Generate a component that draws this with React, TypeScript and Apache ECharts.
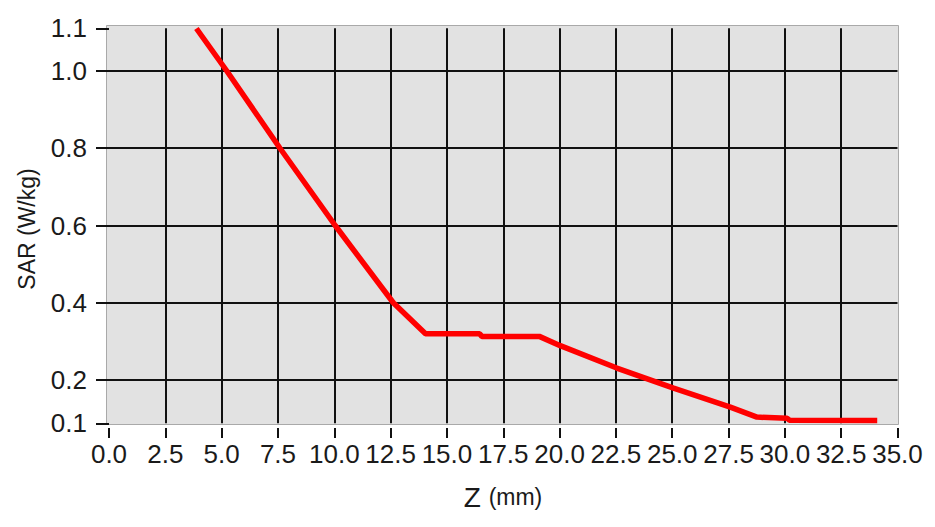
import React, { useEffect, useRef } from "react";
import * as echarts from "echarts";

const zValues = [3.88, 5.23, 7.59, 10.04, 12.62, 14.05, 16.45, 16.55, 19.1, 20.03, 22.54, 25.06, 27.58, 28.76, 30.1, 30.2, 34.1];
const sarValues = [1.11, 1.0, 0.8, 0.6, 0.4, 0.32, 0.32, 0.313, 0.313, 0.289, 0.231, 0.179, 0.13, 0.104, 0.101, 0.096, 0.095];
const yTickValues = [0.088, 0.2, 0.4, 0.6, 0.8, 1.0, 1.1105];
const yGridValues = [0.2, 0.4, 0.6, 0.8, 1.0];
const FONT = "'Liberation Sans', Arial, sans-serif";

export default function App() {
  const ref = useRef<HTMLDivElement>(null);
  useEffect(() => {
    if (!ref.current) return;
    const chart = echarts.init(ref.current, undefined, { renderer: "svg" });
    const data = zValues.map((z, i) => [z, sarValues[i]]);
    chart.setOption({
      animation: false,
      backgroundColor: "#ffffff",
      grid: { left: 109, right: 37.5, top: 28.3, bottom: 103.7, containLabel: false },
      graphic: [
        {
          type: "rect",
          z: -10,
          shape: { x: 106.5, y: 25.5, width: 792, height: 399 },
          style: { fill: "#e2e2e2", stroke: "#a9a9a9", lineWidth: 1 },
        },
        {
          type: "text",
          x: 27,
          y: 229,
          rotation: Math.PI / 2,
          style: {
            text: "SAR (W/kg)",
            fontFamily: FONT,
            fontSize: 23,
            fill: "#1a1a1a",
            align: "center",
            verticalAlign: "middle",
          },
        },
        {
          type: "text",
          x: 503,
          y: 497,
          style: {
            text: "{a|Z}{s| }{b|(mm)}",
            align: "center",
            verticalAlign: "middle",
            rich: {
              a: { fontFamily: FONT, fontSize: 28, fill: "#1a1a1a" },
              s: { fontFamily: FONT, fontSize: 28, fill: "#1a1a1a" },
              b: { fontFamily: FONT, fontSize: 23, fill: "#1a1a1a" },
            },
          },
        },
      ],
      xAxis: {
        type: "value",
        min: 0,
        max: 35,
        interval: 2.5,
        offset: 4.7,
        axisLine: { show: false },
        axisTick: { show: true, length: 10, lineStyle: { color: "#111", width: 2 } },
        axisLabel: {
          margin: 13,
          fontFamily: FONT,
          fontSize: 26,
          color: "#1a1a1a",
          showMinLabel: true,
          showMaxLabel: true,
          hideOverlap: false,
          formatter: (v: number) => v.toFixed(1),
        },
        splitLine: { show: true, showMinLine: false, showMaxLine: false, lineStyle: { color: "#111", width: 2 } },
      },
      yAxis: {
        type: "value",
        min: 0.088,
        max: 1.1105,
        offset: 6,
        axisLine: { show: false },
        axisTick: { show: true, length: 13, customValues: yTickValues, lineStyle: { color: "#111", width: 2 } },
        axisLabel: {
          margin: 16,
          fontFamily: FONT,
          fontSize: 26,
          color: "#1a1a1a",
          customValues: yTickValues,
          formatter: (v: number) => (v < 0.1 ? "0.1" : v > 1.1 ? "1.1" : v.toFixed(1)),
        },
        splitLine: { show: false },
      },
      series: [
        {
          type: "line",
          data: [],
          z: 1,
          silent: true,
          markLine: {
            silent: true,
            symbol: "none",
            label: { show: false },
            lineStyle: { color: "#111", width: 2, type: "solid" },
            data: yGridValues.map((v) => ({ yAxis: v })),
          },
        },
        {
          type: "line",
          z: 5,
          data,
          showSymbol: false,
          symbol: "none",
          lineStyle: { color: "#ff0000", width: 5.5 },
          clip: true,
        },
      ],
    });
    return () => chart.dispose();
  }, []);
  return <div ref={ref} style={{ position: "absolute", left: 0, top: 0, width: 935, height: 527 }} />;
}
